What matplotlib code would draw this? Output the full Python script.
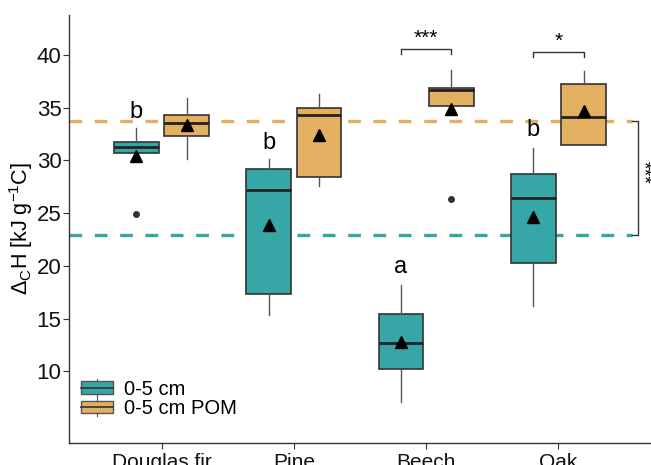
import matplotlib
matplotlib.use("Agg")
import matplotlib.pyplot as plt
from matplotlib.legend_handler import HandlerBase
from matplotlib.patches import Rectangle
from matplotlib.lines import Line2D

plt.rcParams['font.family'] = ['Liberation Sans', 'DejaVu Sans']
plt.rcParams['mathtext.fontset'] = 'custom'
plt.rcParams['mathtext.rm'] = 'Liberation Sans'
plt.rcParams['mathtext.it'] = 'Liberation Sans:italic'

categories = ["Douglas fir", "Pine", "Beech", "Oak"]
series_names = ["0-5 cm", "0-5 cm POM"]

# stats per category: [whislo, q1, median, q3, whishi], mean, fliers
soil_stats = [[30.7, 30.7, 31.3, 31.8, 33.1],
              [15.3, 17.3, 27.2, 29.2, 30.1],
              [7.1, 10.2, 12.7, 15.4, 18.2],
              [16.2, 20.3, 26.4, 28.7, 31.2]]
soil_means = [30.4, 23.9, 12.8, 24.6]
soil_fliers = [[24.9], [], [], []]

pom_stats = [[30.1, 32.3, 33.6, 34.3, 35.9],
             [27.6, 28.4, 34.3, 35.0, 36.3],
             [35.2, 35.2, 36.7, 36.9, 38.6],
             [31.5, 31.5, 34.1, 37.3, 38.5]]
pom_means = [33.35, 32.4, 34.9, 34.7]
pom_fliers = [[], [], [26.3], []]

soil_overall_mean = 22.9
pom_overall_mean = 33.7

letters = ["b", "b", "a", "b"]
letter_y = [34.6, 31.7, 19.9, 32.9]

pair_sig = {"Beech": "***", "Oak": "*"}
pair_sig_y = {"Beech": 40.55, "Oak": 40.3}
overall_sig = "***"

teal = "#36a6a6"
orange = "#e3b062"
edge = "#333333"

fig = plt.figure(figsize=(6.51, 4.65), dpi=100)
ax = fig.add_axes([0.106, 0.0473, 0.894, 0.9204])

offset = 0.19
width = 0.34


def make_stats(st, mean, fl):
    out = []
    for s, m, f in zip(st, mean, fl):
        out.append(dict(whislo=s[0], q1=s[1], med=s[2], q3=s[3], whishi=s[4], mean=m, fliers=f))
    return out


for stats, means, fliers, col, sgn in [(soil_stats, soil_means, soil_fliers, teal, -1),
                                       (pom_stats, pom_means, pom_fliers, orange, 1)]:
    pos = [i + sgn * offset for i in range(len(categories))]
    ax.bxp(make_stats(stats, means, fliers), positions=pos, widths=width,
           patch_artist=True, showmeans=True, showcaps=False,
           boxprops=dict(facecolor=col, edgecolor=edge, linewidth=1.2),
           medianprops=dict(color="#222222", linewidth=2.0),
           whiskerprops=dict(color="#555555", linewidth=1.0),
           meanprops=dict(marker="^", markerfacecolor="black", markeredgecolor="black", markersize=8),
           flierprops=dict(marker="o", markerfacecolor="#333333", markeredgecolor="#333333", markersize=4),
           zorder=3)

ax.axhline(pom_overall_mean, xmin=0, xmax=(3.56 + 0.7) / 4.4, color=orange, lw=2.4, dashes=(3.8, 3.8), zorder=1)
ax.axhline(soil_overall_mean, xmin=0, xmax=(3.56 + 0.7) / 4.4, color=teal, lw=2.4, dashes=(3.8, 3.8), zorder=1)

for i, (l, y) in enumerate(zip(letters, letter_y)):
    ax.text(i - offset, y, l, ha="center", va="center", fontsize=17)

for cat, s in pair_sig.items():
    i = categories.index(cat)
    y = pair_sig_y[cat]
    x0, x1 = i - offset, i + offset
    ax.plot([x0, x0, x1, x1], [y - 0.45, y, y, y - 0.45], color="#333333", lw=1.0)
    ax.text(i, y + 0.1, s, ha="center", va="bottom", fontsize=15)

xb = 3.605
ax.plot([xb - 0.045, xb, xb, xb - 0.045],
        [pom_overall_mean, pom_overall_mean, soil_overall_mean, soil_overall_mean],
        color="#333333", lw=1.0, clip_on=False)
ax.text(3.64, (pom_overall_mean + soil_overall_mean) / 2 + 0.6, overall_sig, rotation=270,
        ha="center", va="center", fontsize=14, clip_on=False)

ax.set_xlim(-0.7, 3.7)
ax.set_ylim(3.2, 43.8)
ax.set_xticks(range(len(categories)))
ax.set_xticklabels(categories, fontsize=15, color="#111111")
ax.set_yticks([10, 15, 20, 25, 30, 35, 40])
ax.tick_params(axis="y", labelsize=16, length=4, color="#333333", labelcolor="#111111", pad=1.5)
ax.tick_params(axis="x", length=4, color="#333333")
ax.set_ylabel(r"$\Delta_{\mathrm{C}}$H [kJ g$^{-1}$C]", fontsize=15.5, labelpad=1)
for sp in ["top", "right"]:
    ax.spines[sp].set_visible(False)
for sp in ["left", "bottom"]:
    ax.spines[sp].set_color("#333333")
    ax.spines[sp].set_linewidth(1.0)


class BoxHandler(HandlerBase):
    def __init__(self, color):
        super().__init__()
        self.color = color

    def create_artists(self, legend, orig_handle, xdescent, ydescent, width, height, fontsize, trans):
        h = height * 0.85
        y0 = (height - h) / 2 - ydescent
        r = Rectangle((-xdescent, y0), width, h, facecolor=self.color, edgecolor="#555555", lw=1.0, transform=trans)
        m = Line2D([-xdescent, -xdescent + width], [y0 + h / 2] * 2, color="#333333", lw=1.2, transform=trans)
        v1 = Line2D([-xdescent + width / 2] * 2, [y0 + h, y0 + h + 2], color="#555555", lw=0.8, transform=trans)
        v2 = Line2D([-xdescent + width / 2] * 2, [y0 - 2, y0], color="#555555", lw=0.8, transform=trans)
        return [r, m, v1, v2]


h1 = Rectangle((0, 0), 1, 1)
h2 = Rectangle((0, 0), 1, 1)
ax.legend([h1, h2], series_names, loc="lower left", bbox_to_anchor=(0.0, 0.03),
          frameon=False, fontsize=14.5, handlelength=1.6, handleheight=0.75, labelspacing=0.02,
          handletextpad=0.55, borderaxespad=0.2,
          handler_map={h1: BoxHandler(teal), h2: BoxHandler(orange)})

fig.savefig("out.png", dpi=100)
